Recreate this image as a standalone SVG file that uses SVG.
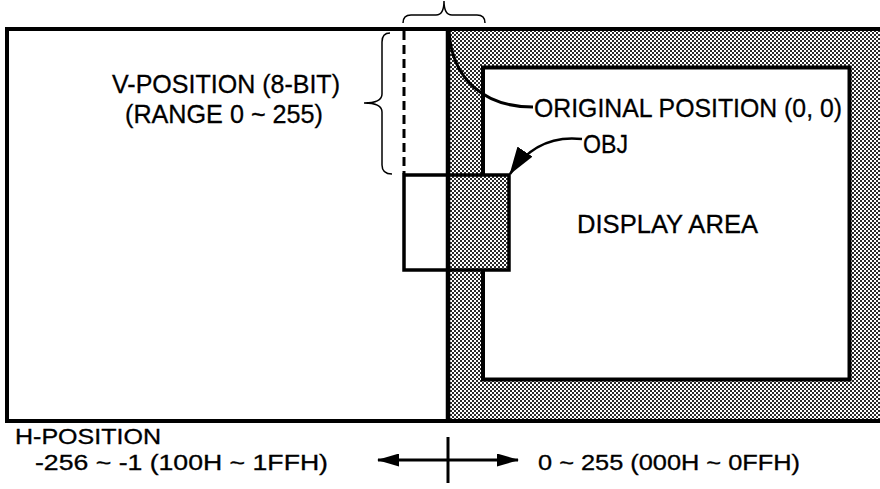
<svg xmlns="http://www.w3.org/2000/svg" width="880" height="489" viewBox="0 0 880 489">
<style>
  text { font-family: "Liberation Sans", Arial, sans-serif; fill: #000; stroke: #000; stroke-width: 0.3; }
  .lbl { font-size: 26px; }
  .bot { font-size: 21.5px; }
  .ln { fill: none; stroke: #000; }
</style>
<defs>
  <pattern id="dots" width="4" height="4" patternUnits="userSpaceOnUse">
    <rect width="4" height="4" fill="#fff"/>
    <rect x="0" y="0" width="2" height="2" fill="#2a2a2a"/>
    <rect x="2" y="2" width="2" height="2" fill="#2a2a2a"/>
  </pattern>
  <marker id="ah" viewBox="0 0 22 13" refX="21" refY="6.5" markerWidth="22" markerHeight="13" markerUnits="userSpaceOnUse" orient="auto-start-reverse">
    <path d="M0,0 L22,6.5 L0,13 Z" fill="#000"/>
  </marker>
  <marker id="ah2" viewBox="0 0 28 18" refX="27" refY="9" markerWidth="28" markerHeight="18" markerUnits="userSpaceOnUse" orient="auto">
    <path d="M0,0 L28,9 L0,18 Z" fill="#000"/>
  </marker>
</defs>
<rect width="880" height="489" fill="#fff"/>

<g id="frame">
  <rect x="448" y="29" width="432" height="392" fill="url(#dots)"/>
  <line class="ln" x1="5" y1="29" x2="880" y2="29" stroke-width="4"/>
  <line class="ln" x1="7" y1="27" x2="7" y2="423" stroke-width="4"/>
  <line class="ln" x1="5" y1="421" x2="880" y2="421" stroke-width="4"/>
</g>

<g id="display-area">
  <rect x="483" y="67.5" width="366.5" height="312" fill="#fff" stroke="#000" stroke-width="4"/>
  <text class="lbl" x="577" y="233" font-size="24" textLength="181" lengthAdjust="spacingAndGlyphs">DISPLAY AREA</text>
</g>

<g id="obj">
  <rect x="404" y="175" width="44" height="95" fill="#fff"/>
  <rect x="448" y="175" width="61" height="95" fill="url(#dots)"/>
  <rect x="404" y="175" width="105" height="95" fill="none" stroke="#000" stroke-width="3.5"/>
</g>

<g id="divider">
  <line class="ln" x1="448" y1="29" x2="448" y2="421" stroke-width="4.5"/>
</g>

<g id="v-range">
  <line class="ln" x1="404" y1="31" x2="404" y2="174" stroke-width="3" stroke-dasharray="9 5"/>
  <path class="ln" stroke-width="1.5" d="M390,33 Q382,33 382,42 L382,94 Q382,103 364,103 Q382,103 382,112 L382,165 Q382,174 392,174"/>
  <path class="ln" stroke-width="1.5" d="M403,23 Q403,15 411,15 L436,15 Q444,15 444,1 Q444,15 452,15 L477,15 Q485,15 485,23"/>
  <text class="lbl" x="112" y="93" textLength="228" lengthAdjust="spacingAndGlyphs">V-POSITION (8-BIT)</text>
  <text class="lbl" x="125" y="123" textLength="198" lengthAdjust="spacingAndGlyphs">(RANGE 0 ~ 255)</text>
</g>

<g id="connectors">
  <path class="ln" stroke-width="3" d="M449,31 C452,80 485,107 533,107"/>
  <path class="ln" stroke-width="2.5" d="M582,139 C556,136 530,144 510,174" marker-end="url(#ah2)"/>
  <line class="ln" x1="378" y1="460" x2="518" y2="460" stroke-width="3" marker-start="url(#ah)" marker-end="url(#ah)"/>
  <line class="ln" x1="448" y1="437" x2="448" y2="483" stroke-width="3"/>
</g>

<g id="labels">
  <text class="lbl" x="534" y="117" textLength="308" lengthAdjust="spacingAndGlyphs">ORIGINAL POSITION (0, 0)</text>
  <text class="lbl" x="583" y="153" textLength="45" lengthAdjust="spacingAndGlyphs">OBJ</text>
  <text class="bot" x="15" y="444" textLength="146" lengthAdjust="spacingAndGlyphs">H-POSITION</text>
  <text class="bot" x="35" y="470" textLength="293" lengthAdjust="spacingAndGlyphs">-256 ~ -1 (100H ~ 1FFH)</text>
  <text class="bot" x="538" y="470" textLength="262" lengthAdjust="spacingAndGlyphs">0 ~ 255 (000H ~ 0FFH)</text>
</g>
</svg>
